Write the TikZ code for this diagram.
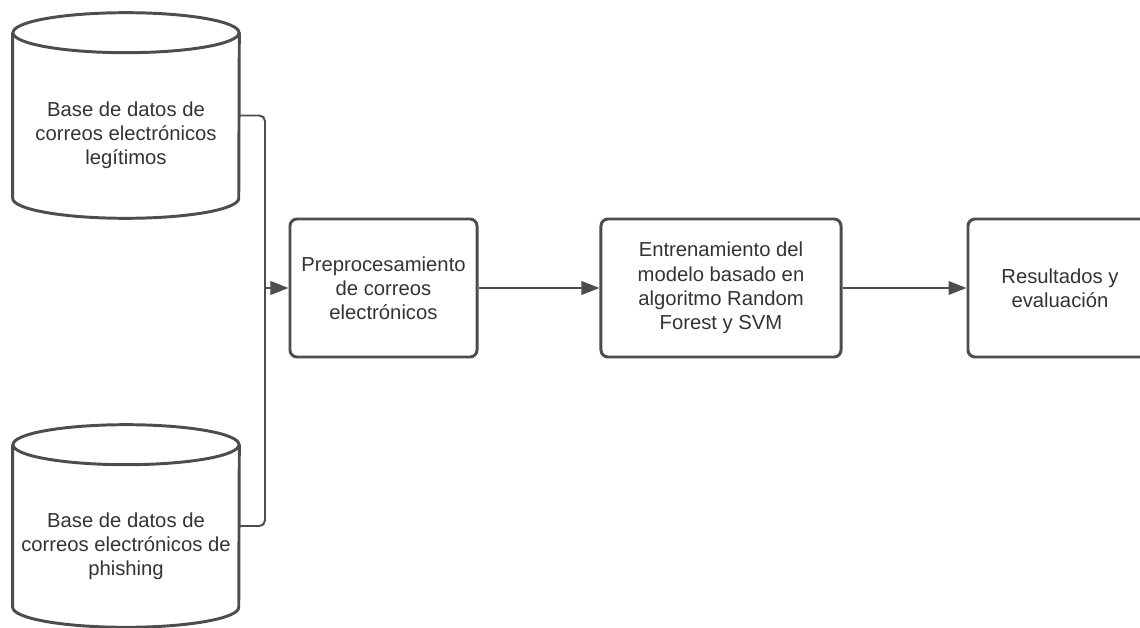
\documentclass[tikz,border=0pt]{standalone}
\usepackage{fontspec}
\setmainfont{Liberation Sans}
\usepackage{xcolor}
\usetikzlibrary{calc,arrows.meta}
\definecolor{linegray}{HTML}{4D4D4D}
\definecolor{textgray}{HTML}{333333}
\tikzstyle{stage}=[rectangle, draw=linegray, line width=2.1pt, rounded corners=5pt, minimum height=3.45cm, align=center, text=textgray, font=\fontsize{14.4}{17.2}\selectfont]
\tikzstyle{dbshape}=[rectangle, inner sep=0pt, minimum width=5.65cm]
\tikzstyle{dbtext}=[align=center, text=textgray, font=\fontsize{14.4}{17.2}\selectfont]
\tikzstyle{outline}=[draw=linegray, line width=2.1pt]
\tikzstyle{conn}=[draw=linegray, line width=1.4pt]
\newcommand{\database}[4]{%
	\node[dbshape, minimum height=#3] (#1) at (#2) {};
	\draw[outline] ($(#1.north west)+(0,-20)$) -- ($(#1.south west)+(0,20)$)
		arc[start angle=180, end angle=360, x radius=2.825cm, y radius=0.5cm]
		-- ($(#1.north east)+(0,-20)$);
	\draw[outline] ($(#1.north)+(0,-20)$) ellipse[x radius=2.825cm, y radius=0.5cm];
	\node[dbtext] (#1txt) at ($(#1.center)+(0,-20)$) {#4};
}

\begin{document}
\begin{tikzpicture}[x=0.025cm, y=0.025cm]
\useasboundingbox (0,0) rectangle (1140,627);
\database{legit}{126,511.5}{5.125cm}{Base de datos de\\correos electrónicos\\legítimos}
\database{phish}{126,101}{5.05cm}{Base de datos de\\correos electrónicos de\\phishing}
\node[stage, minimum width=4.675cm] (pre) at (383.5,339) {Preprocesamiento\\de correos\\electrónicos};
\node[stage, minimum width=6cm] (train) at (721,339) {Entrenamiento del\\modelo basado en\\algoritmo Random\\Forest y SVM};
\node[stage, minimum width=4.6cm] (res) at (1060,339) {Resultados y\\evaluación};
\coordinate (join) at (265,339);
\draw[conn, rounded corners=4pt] (legit.east) -| (join) |- (phish.east);
\draw[conn, -{Triangle[length=0.45cm, width=0.34cm]}] (join) -- (pre.west);
\draw[conn, -{Triangle[length=0.45cm, width=0.34cm]}] (pre.east) -- (train.west);
\draw[conn, -{Triangle[length=0.45cm, width=0.34cm]}] (train.east) -- (res.west);
\end{tikzpicture}
\end{document}
